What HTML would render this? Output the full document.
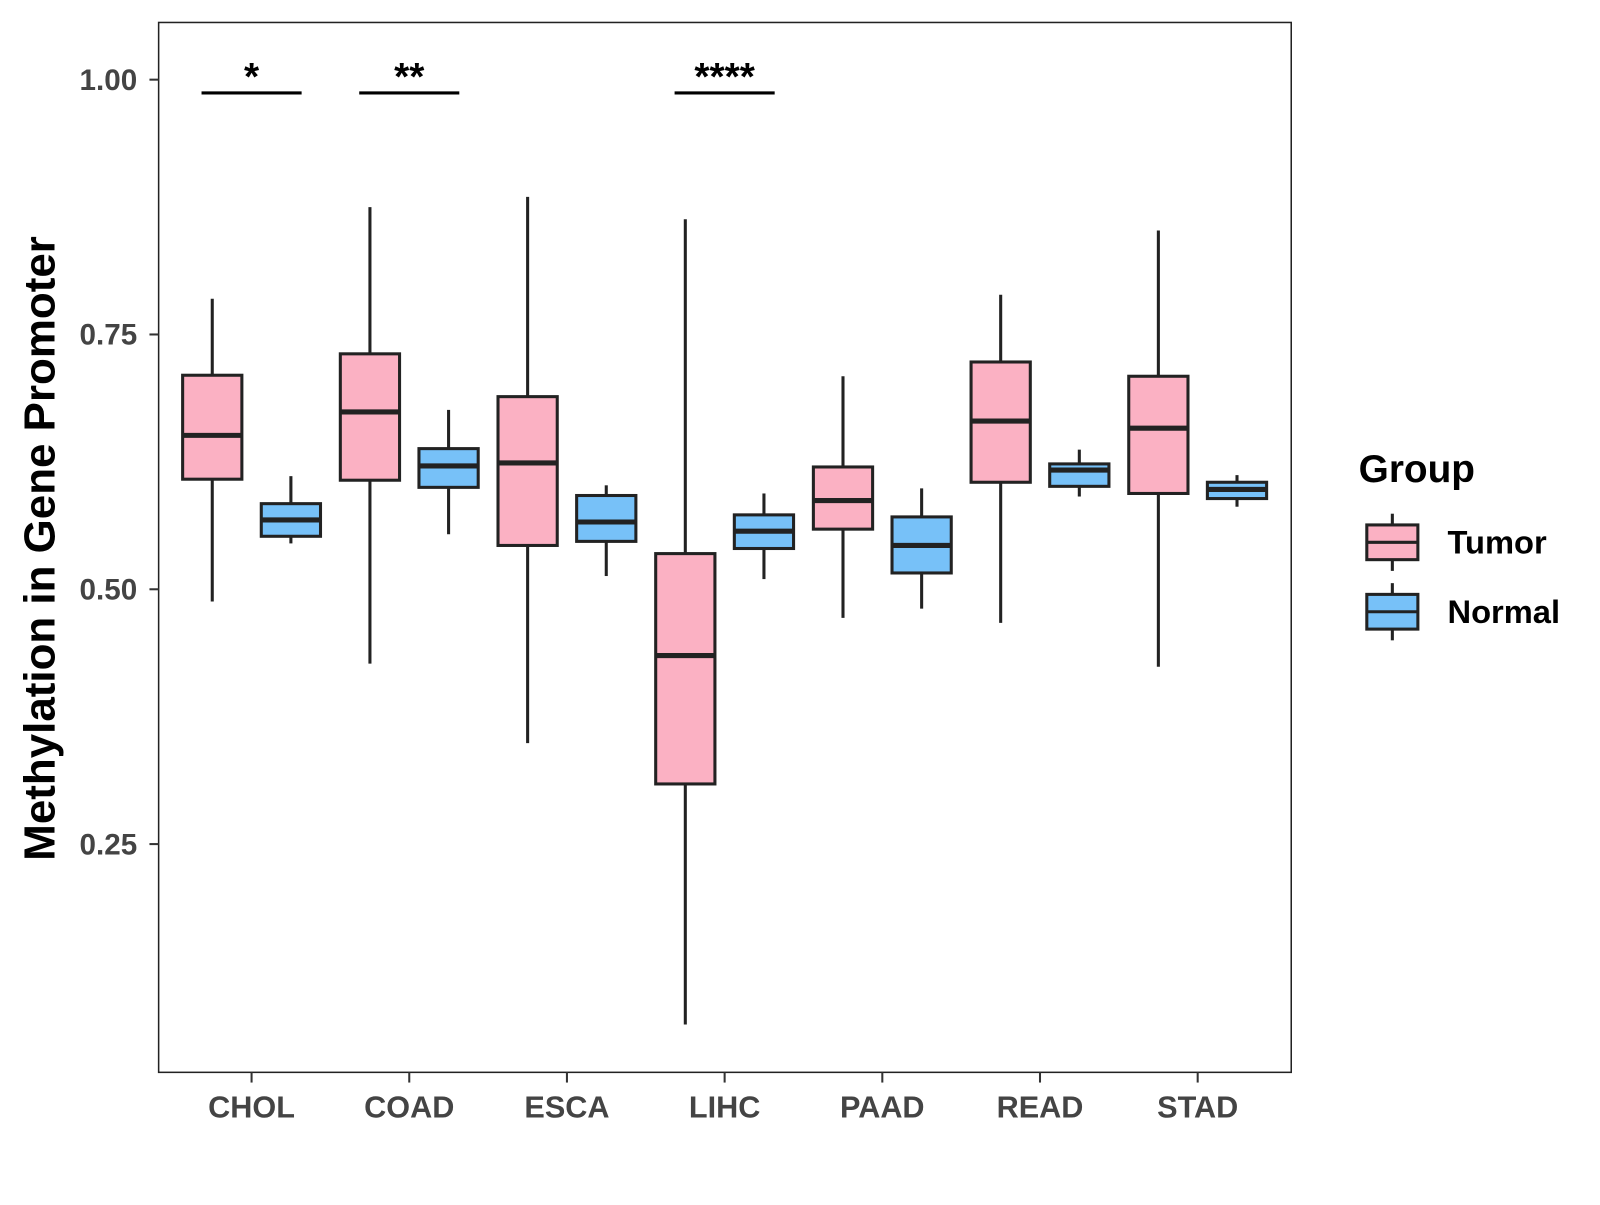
<!DOCTYPE html>
<html><head><meta charset="utf-8"><style>
html,body{margin:0;padding:0;background:#fff;}
svg text{font-family:"Liberation Sans",Arial,sans-serif;font-weight:bold;}
</style></head><body>
<svg id="chart" width="1600" height="1200" viewBox="0 0 1566 1175" xmlns="http://www.w3.org/2000/svg"></svg>
<script>
const categories=["CHOL","COAD","ESCA","LIHC","PAAD","READ","STAD"];
const tumorLow=[0.488,0.427,0.349,0.073,0.472,0.467,0.424];
const tumorQ1=[0.608,0.607,0.543,0.309,0.559,0.605,0.594];
const tumorMed=[0.651,0.674,0.624,0.435,0.587,0.665,0.658];
const tumorQ3=[0.710,0.731,0.689,0.535,0.620,0.723,0.709];
const tumorHigh=[0.785,0.875,0.885,0.863,0.709,0.789,0.852];
const normalLow=[0.545,0.554,0.513,0.510,0.481,0.591,0.581];
const normalQ1=[0.552,0.600,0.547,0.540,0.516,0.601,0.589];
const normalMed=[0.568,0.621,0.566,0.557,0.543,0.617,0.598];
const normalQ3=[0.584,0.638,0.592,0.573,0.571,0.623,0.605];
const normalHigh=[0.611,0.676,0.602,0.594,0.599,0.637,0.612];
const yTicks=[0.25,0.50,0.75,1.00];
const yTickLabels=["0.25","0.50","0.75","1.00"];
const sigCats=["CHOL","COAD","LIHC"];
const sigLabels=["*","**","****"];

const NS="http://www.w3.org/2000/svg";
const svg=document.getElementById('chart');
const L=155,R=1264,T=22,B=1050;
const y=v=>78+(1-v)*998;
const x=i=>246+i*154.4;
function mk(tag,attrs,parent){const e=document.createElementNS(NS,tag);for(const k in attrs)e.setAttribute(k,attrs[k]);(parent||svg).appendChild(e);return e;}

const panel=mk('rect',{x:L,y:T,width:R-L,height:B-T,fill:'#fff',stroke:'#222','stroke-width':1.5});



yTicks.forEach((v,i)=>{
  const t=mk('line',{x1:146,x2:L,y1:y(v),y2:y(v),stroke:'#333','stroke-width':2});
  
  
  const tx=mk('text',{x:134,y:y(v)+10,'text-anchor':'end','font-size':29,fill:'#444'});
  tx.textContent=yTickLabels[i];
  
  
});
categories.forEach((c,i)=>{
  const t=mk('line',{x1:x(i),x2:x(i),y1:B,y2:B+10,stroke:'#333','stroke-width':2});
  
  
  const tx=mk('text',{x:x(i),y:1094,'text-anchor':'middle','font-size':30,fill:'#444'});
  tx.textContent=c;
  
  
});
const yt=mk('text',{x:0,y:0,transform:'translate(53,537) rotate(-90)','text-anchor':'middle','font-size':43,fill:'#000'});
yt.textContent='Methylation in Gene Promoter';



function box(cx,lo,q1,md,q3,hi,fill,name,w){
  const g=mk('g',{});
  
  
  mk('line',{x1:cx,x2:cx,y1:y(hi),y2:y(q3),stroke:'#222','stroke-width':3},g);
  mk('line',{x1:cx,x2:cx,y1:y(q1),y2:y(lo),stroke:'#222','stroke-width':3},g);
  mk('rect',{x:cx-w/2,y:y(q3),width:w,height:y(q1)-y(q3),fill:fill,stroke:'#222','stroke-width':3},g);
  mk('line',{x1:cx-w/2,x2:cx+w/2,y1:y(md),y2:y(md),stroke:'#222','stroke-width':5},g);
}
categories.forEach((c,i)=>{
  box(x(i)-38.5,tumorLow[i],tumorQ1[i],tumorMed[i],tumorQ3[i],tumorHigh[i],'#fbb1c3','box-tumor-'+c.toLowerCase(),58);
  box(x(i)+38.5,normalLow[i],normalQ1[i],normalMed[i],normalQ3[i],normalHigh[i],'#77c1f8','box-normal-'+c.toLowerCase(),58);
});
sigCats.forEach((c,k)=>{
  const i=categories.indexOf(c);
  const l=mk('line',{x1:x(i)-49,x2:x(i)+49,y1:91,y2:91,stroke:'#000','stroke-width':3});
  
  
  const t=mk('text',{x:x(i),y:88,'text-anchor':'middle','font-size':38,fill:'#000'});
  t.textContent=sigLabels[k];
  
  
});
const lg=mk('text',{x:1330,y:472,'font-size':38,fill:'#000'});
lg.textContent='Group';


[['Tumor','#fbb1c3',531],['Normal','#77c1f8',599]].forEach(([n,f,cy])=>{
  const g=mk('g',{});
  
  
  mk('line',{x1:1363,x2:1363,y1:cy-28,y2:cy+28,stroke:'#222','stroke-width':3},g);
  mk('rect',{x:1338,y:cy-17,width:50,height:34,fill:f,stroke:'#222','stroke-width':3},g);
  mk('line',{x1:1338,x2:1388,y1:cy,y2:cy,stroke:'#222','stroke-width':3},g);
  const t=mk('text',{x:1417,y:cy+11,'font-size':32,fill:'#000'},g);
  t.textContent=n;
});
</script>
</body></html>
